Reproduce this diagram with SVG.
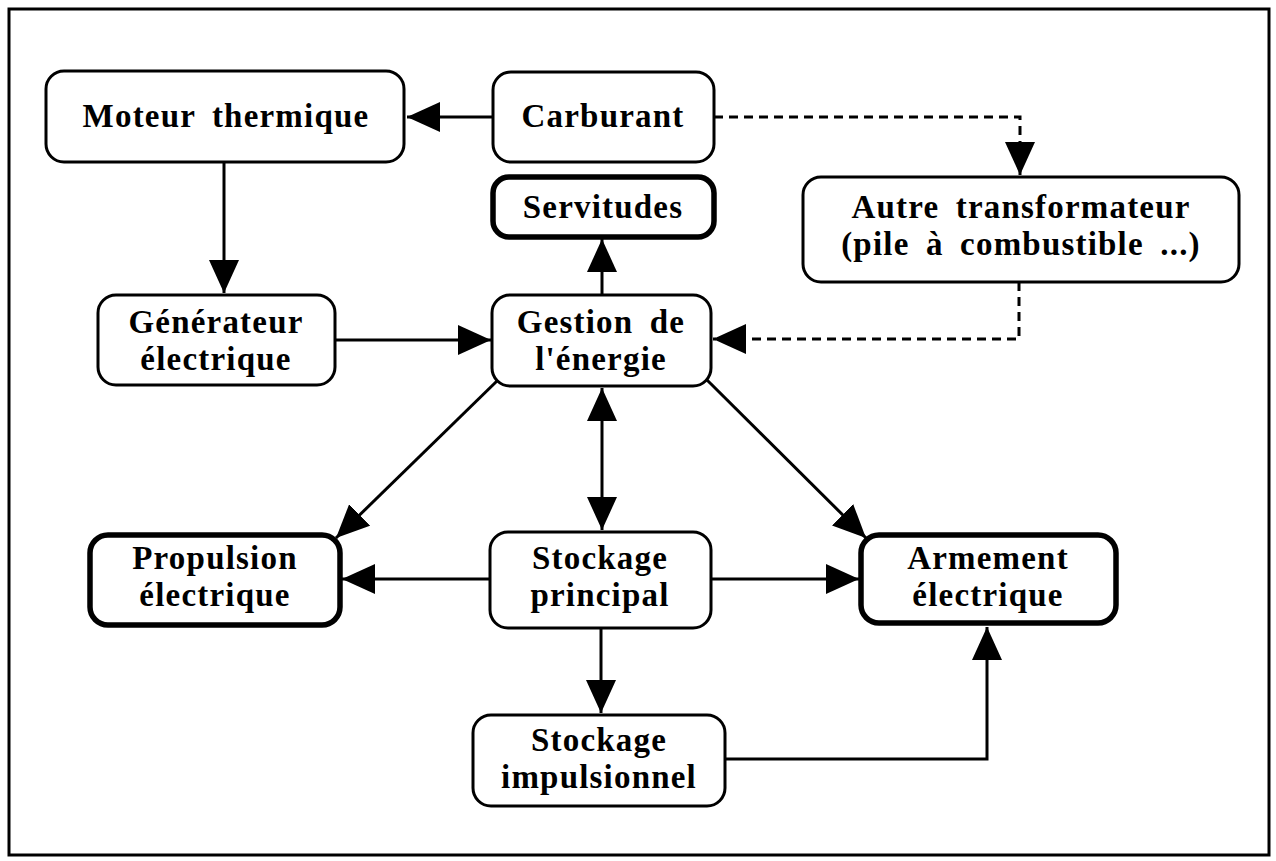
<svg xmlns="http://www.w3.org/2000/svg" width="1276" height="861" viewBox="0 0 1276 861">
<style>
.box{fill:#fff;stroke:#000;stroke-width:3}
.thick{fill:#fff;stroke:#000;stroke-width:5.5}
text{font-family:"Liberation Serif","Times New Roman",serif;font-weight:bold;font-size:33px;text-anchor:middle;fill:#000;letter-spacing:1.2px;word-spacing:7px}
.c{fill:none;stroke:#000;stroke-width:3}
.d{fill:none;stroke:#000;stroke-width:3;stroke-dasharray:9,6}
</style>
<defs>
<marker id="ah" markerUnits="userSpaceOnUse" markerWidth="36" markerHeight="32" refX="33" refY="15" orient="auto">
<path d="M0,0 L33,15 L0,30 z" fill="#000"/>
</marker>
</defs>
<rect x="0" y="0" width="1276" height="861" fill="#fff"/>
<rect x="9" y="9" width="1260" height="846" fill="none" stroke="#000" stroke-width="3"/>
<g id="connectors">
<path class="c" d="M493,117 L407,117" marker-end="url(#ah)"/>
<path class="c" d="M224,162 L224,293" marker-end="url(#ah)"/>
<path class="d" d="M714,117 L1020,117 L1020,175" marker-end="url(#ah)"/>
<path class="c" d="M602,295 L602,239" marker-end="url(#ah)"/>
<path class="c" d="M335,340 L491,340" marker-end="url(#ah)"/>
<path class="d" d="M1019,282 L1019,339 L713,339" marker-end="url(#ah)"/>
<path class="c" d="M602,460 L602,388" marker-end="url(#ah)"/>
<path class="c" d="M602,460 L602,530" marker-end="url(#ah)"/>
<path class="c" d="M498,380 L336,538" stroke-width="4" marker-end="url(#ah)"/>
<path class="c" d="M705,378 L866,538" stroke-width="4" marker-end="url(#ah)"/>
<path class="c" d="M490,579 L342,579" marker-end="url(#ah)"/>
<path class="c" d="M711,579 L859,579" marker-end="url(#ah)"/>
<path class="c" d="M601,628 L601,713" marker-end="url(#ah)"/>
<path class="c" d="M725,759 L987,759 L987,627" marker-end="url(#ah)"/>
</g>
<g id="moteur"><rect class="box" x="46" y="71" width="358" height="91" rx="18"/><text x="226" y="127">Moteur thermique</text></g>
<g id="carburant"><rect class="box" x="493" y="72" width="221" height="90" rx="18"/><text x="603" y="127">Carburant</text></g>
<g id="servitudes"><rect class="thick" x="493" y="177" width="221" height="60" rx="16"/><text x="603" y="218">Servitudes</text></g>
<g id="autre"><rect class="box" x="803" y="177" width="436" height="105" rx="18"/><text x="1021" y="218">Autre transformateur</text><text x="1021" y="255">(pile à combustible ...)</text></g>
<g id="generateur"><rect class="box" x="98" y="295" width="237" height="90" rx="18"/><text x="216" y="333">Générateur</text><text x="216" y="370">électrique</text></g>
<g id="gestion"><rect class="box" x="492" y="295" width="219" height="91" rx="18"/><text x="601" y="333">Gestion de</text><text x="601" y="370">l'énergie</text></g>
<g id="propulsion"><rect class="thick" x="90" y="535" width="250" height="90" rx="18"/><text x="215" y="569">Propulsion</text><text x="215" y="606">électrique</text></g>
<g id="stockage-principal"><rect class="box" x="490" y="532" width="221" height="96" rx="18"/><text x="600" y="569">Stockage</text><text x="600" y="606">principal</text></g>
<g id="armement"><rect class="thick" x="861" y="535" width="255" height="88" rx="18"/><text x="988" y="569">Armement</text><text x="988" y="606">électrique</text></g>
<g id="stockage-impulsionnel"><rect class="box" x="473" y="715" width="252" height="91" rx="18"/><text x="599" y="751">Stockage</text><text x="599" y="788">impulsionnel</text></g>
</svg>
